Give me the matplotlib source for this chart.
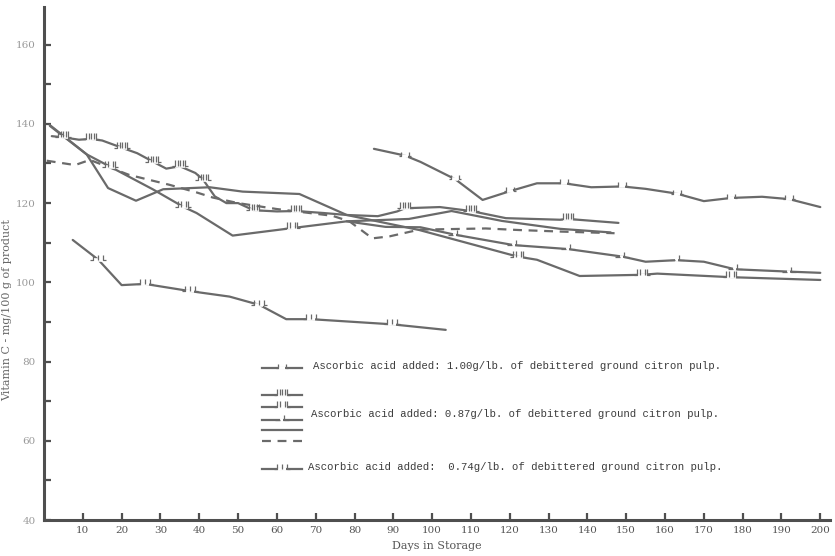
import numpy as np
import matplotlib.pyplot as plt
from matplotlib.path import Path
from matplotlib.lines import Line2D

# ---- data (days in storage, vitamin C mg/100 g) ----
# 1.00 g/lb
days_a = [85, 93, 97, 106, 113, 120, 127, 134, 141, 149, 155, 163, 170, 177, 185, 192, 200]
vitc_a = [133.7, 132.0, 130.4, 126.0, 120.8, 123.0, 125.0, 125.0, 124.0, 124.2, 123.6, 122.4, 120.5, 121.3, 121.6, 121.0, 119.0]
brk_a = [1, 3, 5, 7, 9, 11, 13, 15]

# 0.87 g/lb, five lots
days_c = [2, 5, 9, 12, 15, 20, 24, 28, 31.5, 35, 39, 41, 44, 47, 50, 54, 60, 65, 72, 78, 86, 91, 93, 96, 102, 110, 119, 133, 135, 148]
vitc_c = [136.9, 136.6, 136.0, 136.2, 135.8, 134.0, 132.6, 130.5, 128.7, 129.3, 127.6, 125.9, 121.7, 120.0, 120.0, 118.2, 117.9, 118.0, 117.5, 117.0, 116.7, 117.9, 118.7, 118.8, 119.0, 118.0, 116.2, 115.8, 116.0, 115.0]
brk_c = [1, 3, 5, 7, 9, 11, 15, 17, 22, 25, 28]

days_e = [1.5, 11, 17, 28, 35.8, 39.3, 48.6, 64, 78, 94, 105, 118, 133, 146]
vitc_e = [139.5, 132.3, 129.2, 123.5, 119.1, 117.5, 111.8, 113.7, 115.4, 116.0, 118.0, 115.5, 113.5, 112.6]
brk_e = [2, 4, 7]

days_g = [78, 88, 97, 106, 121, 135, 149, 155, 163, 170, 178, 192, 200]
vitc_g = [115.4, 114.0, 113.9, 112.0, 109.4, 108.4, 106.5, 105.2, 105.6, 105.2, 103.3, 102.7, 102.4]
brk_g = [3, 4, 5, 6, 8, 10, 11]

days_d = [1.5, 11, 16.5, 23.7, 30.7, 42.7, 51.2, 65.8, 78, 96.7, 122, 127, 138, 154, 158, 177, 200]
vitc_d = [139.7, 132.3, 123.8, 120.6, 123.5, 124.0, 122.9, 122.3, 117.0, 113.2, 106.5, 105.7, 101.6, 101.9, 102.2, 101.3, 100.6]
brk_d = [10, 13, 15]

days_f = [0.7, 8, 11.8, 22, 32.4, 39.3, 43.5, 50, 60, 74.3, 78.7, 84.6, 89, 96.7, 113.8, 122.4, 133.5, 147]
vitc_f = [130.7, 129.6, 130.9, 127.1, 124.6, 122.7, 121.4, 120.0, 118.5, 116.8, 115.4, 111.1, 111.6, 113.3, 113.6, 113.2, 112.8, 112.4]

# 0.74 g/lb
days_b = [7.4, 14, 20, 26, 37.5, 47.8, 55.5, 62.4, 68.8, 89.7, 103.5]
vitc_b = [110.7, 105.7, 99.3, 99.6, 97.8, 96.4, 94.3, 90.7, 90.7, 89.4, 88.0]
brk_b = [1, 3, 4, 6, 8, 9]

x_ticks = list(range(10, 201, 10))
y_ticks = list(range(40, 161, 20))

labels = ['Ascorbic acid added: 1.00g/lb. of debittered ground citron pulp.',
          'Ascorbic acid added: 0.87g/lb. of debittered ground citron pulp.',
          'Ascorbic acid added:  0.74g/lb. of debittered ground citron pulp.']

LINE = '#6a6a6a'
AXC = '#4f4f4f'


def hook_marker(n_mid, single=False):
    # break symbol: line ends with a hook, n small strokes, hook, line resumes
    v, c = [], []
    if single:
        v += [(-1, 0), (-0.35, 0), (0.25, 0.7), (0.25, 0), (1, 0)]
        c += [Path.MOVETO, Path.LINETO, Path.MOVETO, Path.LINETO, Path.LINETO]
        return Path(v, c)
    v += [(-1, 0), (-0.6, 0), (-0.6, 0.7)]
    c += [Path.MOVETO, Path.LINETO, Path.LINETO]
    if n_mid:
        xs = np.linspace(-0.3, 0.3, n_mid) if n_mid > 1 else [0.0]
        for x in xs:
            v += [(x, 0.05), (x, 0.7)]
            c += [Path.MOVETO, Path.LINETO]
    v += [(0.6, 0.7), (0.6, 0), (1, 0)]
    c += [Path.MOVETO, Path.LINETO, Path.LINETO]
    return Path(v, c)


gap = Path([(-1, 0), (-0.55, 0), (0.55, 0), (1, 0)],
           [Path.MOVETO, Path.MOVETO, Path.LINETO, Path.MOVETO])
gap1 = Path([(-1, 0), (-0.3, 0), (0.2, 0), (1, 0)],
            [Path.MOVETO, Path.MOVETO, Path.LINETO, Path.MOVETO])

fig = plt.figure(figsize=(8.35, 5.56), dpi=100)
ax = fig.add_axes([0.0527, 0.0647, 0.9413, 0.9227])


def draw(x, y, brk=None, mk=None, ls='-', ms=12, gp=gap):
    ax.plot(x, y, color=LINE, lw=1.6, ls=ls, solid_capstyle='round')
    if brk:
        ax.plot(x, y, ls='none', marker=gp, markevery=brk, ms=ms,
                mec='white', mfc='none', mew=2.6)
        ax.plot(x, y, ls='none', marker=mk, markevery=brk, ms=ms,
                mec=LINE, mfc='none', mew=0.9)


draw(days_d, vitc_d, brk_d, hook_marker(2))
draw(days_f, vitc_f, ls=(0, (4, 3)))
draw(days_e, vitc_e, brk_e, hook_marker(2))
draw(days_g, vitc_g, brk_g, hook_marker(0, single=True), ms=10, gp=gap1)
draw(days_c, vitc_c, brk_c, hook_marker(3))
draw(days_a, vitc_a, brk_a, hook_marker(0), ms=9)
draw(days_b, vitc_b, brk_b, hook_marker(1), ms=11)

ax.set_xlim(0, 202.5)
ax.set_ylim(40, 169.5)
ax.set_xticks(x_ticks)
ax.set_xticklabels([str(t) for t in x_ticks])
ax.set_yticks(y_ticks)
ax.set_yticks(list(range(50, 160, 20)), minor=True)
for s in ['top', 'right']:
    ax.spines[s].set_visible(False)
for s in ['left', 'bottom']:
    ax.spines[s].set_color(AXC)
    ax.spines[s].set_linewidth(2.2)
ax.tick_params(axis='x', direction='in', length=5, width=1.6, color=AXC,
               labelsize=7.5, labelcolor='#555555', pad=4)
ax.tick_params(axis='y', which='both', direction='in', length=5, width=1.6,
               color=AXC, labelsize=7.5, labelcolor='#9a9a9a', pad=6)
for t in ax.get_xticklabels() + ax.get_yticklabels():
    t.set_family('DejaVu Serif')

ax.set_xlabel('Days in Storage', fontsize=8, family='DejaVu Serif', color='#555555')
ax.xaxis.set_label_coords(0.5, -0.041)
ax.set_ylabel('Vitamin C - mg/100 g of product', fontsize=8, family='DejaVu Serif',
              color='#666666')
ax.yaxis.set_label_coords(-0.04, 0.41)

# hand-drawn legend, placed in figure pixels
W, H = 835, 556


def sample(py, mk=None, ls='-', ms=12, gp=gap):
    xs = [262 / W, 282 / W, 302 / W]
    ys = [1 - py / H] * 3
    fig.add_artist(Line2D(xs, ys, color=LINE, lw=1.6, ls=ls))
    if mk is not None:
        fig.add_artist(Line2D(xs, ys, ls='none', marker=gp, markevery=[1],
                              ms=ms, mec='white', mfc='none', mew=2.6))
        fig.add_artist(Line2D(xs, ys, ls='none', marker=mk, markevery=[1],
                              ms=ms, mec=LINE, mfc='none', mew=0.9))


sample(368, hook_marker(0), ms=9)
sample(395, hook_marker(3))
sample(407, hook_marker(2))
sample(420, hook_marker(0, single=True), ms=10, gp=gap1)
sample(430)
sample(441, ls=(0, (4, 3)))
sample(469, hook_marker(1), ms=11)

tkw = dict(fontsize=7.7, family='Liberation Mono', color='#3c3c3c', va='center')
fig.text(313 / W, 1 - 366 / H, labels[0], **tkw)
fig.text(311 / W, 1 - 414 / H, labels[1], **tkw)
fig.text(308 / W, 1 - 467 / H, labels[2], **tkw)

plt.savefig('out.png', dpi=100)
